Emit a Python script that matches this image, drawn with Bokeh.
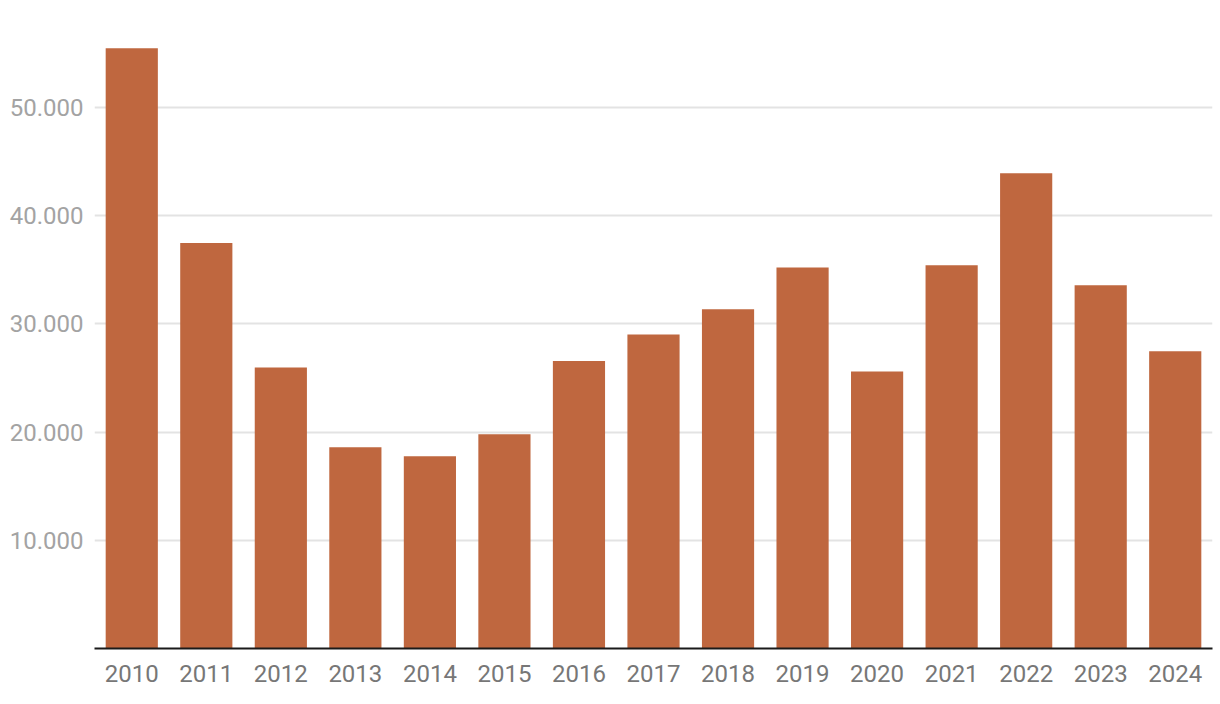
from bokeh.plotting import figure
from bokeh.models import FixedTicker, CustomJSTickFormatter, Range1d
from bokeh.embed import file_html
from bokeh.resources import INLINE

years = [str(y) for y in range(2010, 2025)]
values = [55450, 37450, 25950, 18600, 17750, 19800, 26550, 29000, 31350,
          35200, 25600, 35400, 43900, 33550, 27450]
y_ticks = [10000, 20000, 30000, 40000, 50000]

p = figure(x_range=years, y_range=Range1d(0, 58200), width=1218, height=700,
           output_backend="svg", toolbar_location=None,
           min_border_left=94, min_border_right=6, min_border_top=18,
           min_border_bottom=52)
p.outline_line_color = None
p.background_fill_color = "white"
p.border_fill_color = "white"

p.vbar(x=years, top=values, width=0.70, color="#BF673F", line_color=None)

p.x_range.range_padding = 0
p.xgrid.grid_line_color = None
p.ygrid.grid_line_color = "#e3e3e3"
p.ygrid.grid_line_width = 2
p.ygrid.ticker = FixedTicker(ticks=y_ticks)

p.yaxis.ticker = FixedTicker(ticks=y_ticks)
p.yaxis.formatter = CustomJSTickFormatter(
    code="return String(tick).replace(/\\B(?=(\\d{3})+(?!\\d))/g, '.');")
p.yaxis.axis_line_color = None
p.yaxis.major_tick_line_color = None
p.yaxis.minor_tick_line_color = None
p.yaxis.major_tick_out = 0
p.yaxis.major_label_standoff = 11
p.yaxis.major_label_text_font = "Roboto"
p.yaxis.major_label_text_font_size = "24px"
p.yaxis.major_label_text_color = "#a3a3a3"

p.xaxis.axis_line_color = "#1a1a1a"
p.xaxis.axis_line_width = 2
p.xaxis.major_tick_line_color = None
p.xaxis.minor_tick_line_color = None
p.xaxis.major_tick_out = 0
p.xaxis.major_label_standoff = 16
p.xaxis.major_label_text_font = "Roboto"
p.xaxis.major_label_text_font_size = "24px"
p.xaxis.major_label_text_color = "#777777"

open("out.html", "w").write(file_html(p, INLINE))
